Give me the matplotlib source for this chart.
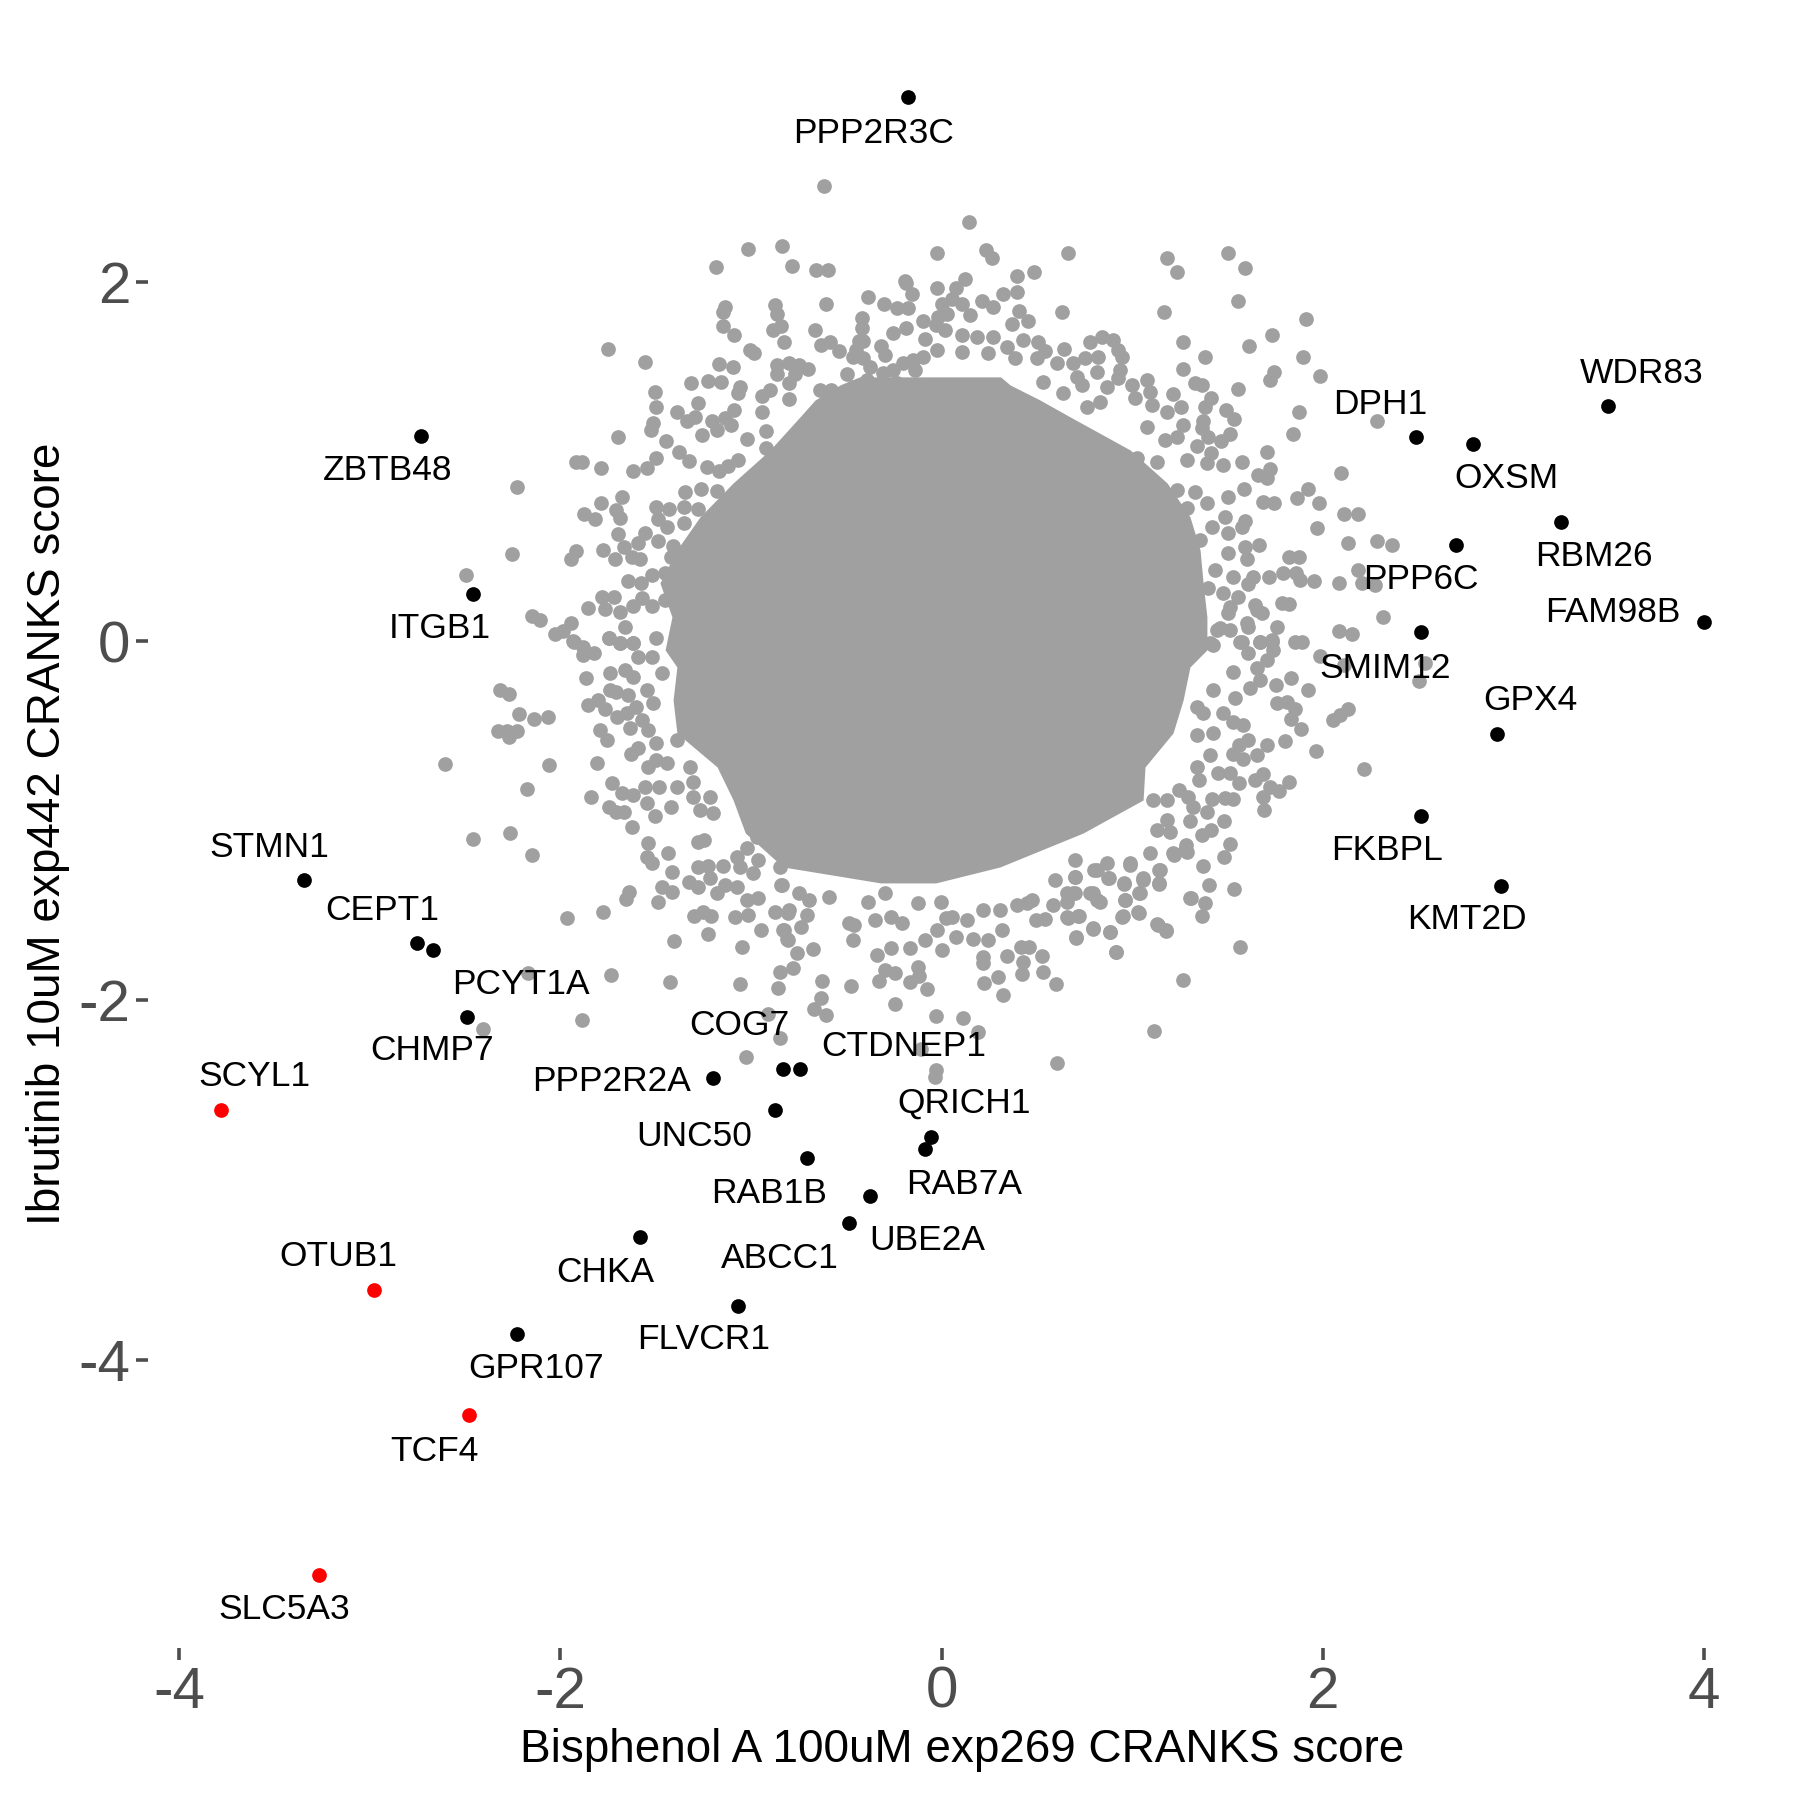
import matplotlib
matplotlib.use('Agg')
import matplotlib.pyplot as plt

plt.rcParams['font.family'] = ['Liberation Sans', 'DejaVu Sans']
plt.rcParams['axes.unicode_minus'] = False

# labelled genes
genes = ['PPP2R3C', 'ZBTB48', 'ITGB1', 'DPH1', 'OXSM', 'WDR83', 'RBM26', 'PPP6C', 'FAM98B', 'SMIM12', 'GPX4',
         'FKBPL', 'KMT2D', 'STMN1', 'CEPT1', 'PCYT1A', 'CHMP7', 'PPP2R2A', 'COG7', 'CTDNEP1', 'UNC50', 'QRICH1',
         'RAB7A', 'RAB1B', 'UBE2A', 'ABCC1', 'CHKA', 'FLVCR1', 'GPR107']
gene_x = [-.175, -2.73, -2.46, 2.49, 2.79, 3.5, 3.25, 2.70, 4.0, 2.517, 2.917,
          2.517, 2.935, -3.345, -2.755, -2.67, -2.49, -1.2, -.833, -.745, -.875, -.055,
          -.085, -.705, -.375, -.483, -1.585, -1.068, -2.23]
gene_y = [3.035, 1.147, .267, 1.137, 1.098, 1.309, .664, .536, .107, .05, -.513,
          -.973, -1.36, -1.33, -1.682, -1.72, -2.09, -2.43, -2.38, -2.38, -2.61, -2.76,
          -2.83, -2.88, -3.09, -3.24, -3.32, -3.70, -3.86]
gene_label_x = [-.357, -2.906, -2.635, 2.301, 2.964, 3.676, 3.423, 2.518, 3.525, 2.331, 3.091,
                2.338, 2.759, -3.527, -2.937, -2.207, -2.672, -1.731, -1.062, -.2, -1.297, .119,
                .119, -.905, -.073, -.851, -1.767, -1.249, -2.129]
gene_label_y = [2.831, .951, .075, 1.322, .907, 1.49, .472, .344, .159, -.149, -.328,
                -1.165, -1.549, -1.146, -1.497, -1.913, -2.278, -2.449, -2.137, -2.258, -2.757, -2.571,
                -3.025, -3.076, -3.339, -3.435, -3.518, -3.889, -4.049]

hit_genes = ['SCYL1', 'OTUB1', 'TCF4', 'SLC5A3']
hit_x = [-3.78, -2.98, -2.48, -3.27]
hit_y = [-2.61, -3.61, -4.31, -5.2]
hit_label_x = [-3.606, -3.166, -2.659, -3.449]
hit_label_y = [-2.425, -3.428, -4.511, -5.392]

# overplotted centre of the cloud, too dense to tell points apart: extent per row
core_y = [1.474, 1.429, 1.345, 1.251, 1.067, .883, .694, .51, .326, .137, -.047, -.142, -.326, -.51, -.699, -.883, -1.067, -1.256, -1.345]
core_left = [-.43, -.533, -.664, -.743, -.90, -1.094, -1.268, -1.389, -1.478, -1.415, -1.451, -1.389, -1.409, -1.389, -1.178, -1.094, -1.03, -.832, -.32]
core_right = [.31, .36, .517, .675, .99, 1.184, 1.304, 1.357, 1.373, 1.393, 1.393, 1.304, 1.268, 1.215, 1.068, 1.058, .743, .307, -.03]

# gray points around the centre, read region by region
ul = """-.617 2.537;-1.016 2.186;-.838 2.205;-1.186 2.086;-.787 2.094;-.659 2.068;-.595 2.068;-.386 1.917;-.607 1.878;-.236 1.856
-1.137 1.861;-1.149 1.834;-1.147 1.758;-1.088 1.707;-.876 1.873;-.866 1.824;-.843 1.758;-.883 1.735;-.825 1.668;-.666 1.735
-.416 1.748;-.435 1.676;-.635 1.652;-.584 1.67;-.537 1.618;-.318 1.646;-.297 1.598;-1.748 1.628;-1.557 1.557;-1.006 1.624
-.985 1.605;-1.167 1.548;-1.097 1.527;-1.317 1.438;-1.228 1.449;-1.156 1.444;-1.058 1.416;-1.067 1.382;-1.506 1.388;-1.497 1.308
-1.277 1.327;-1.389 1.278;-1.294 1.252;-1.338 1.228;-1.513 1.219;-1.527 1.176;-1.697 1.139;-1.207 1.23;-1.137 1.243;-1.088 1.288
-1.105 1.206;-1.181 1.178;-1.258 1.148;-1.448 1.119;-1.377 1.057;-1.326 1.007;-1.499 1.02;-1.548 .968;-1.618 .948;-1.788 .968
-1.916 .998;-1.889 .998;-2.229 .859;-1.676 .807;-1.788 .77;-1.877 .708;-1.818 .68;-1.706 .732;-1.688 .69;-1.697 .599
-1.557 .602;-1.592 .547;-1.487 .56;-1.347 .831;-2.257 .489;-1.919 .504;-1.947 .458;-1.779 .51;-1.667 .528;-1.714 .459
-1.627 .472;-1.583 .459;-1.646 .337;-1.578 .328;-1.784 .25;-1.856 .188;-1.767 .179;-1.688 .166;-2.147 .142;-2.105 .12
-1.947 .101;-2.029 .04;-1.986 .058;-2.498 .368;-1.744 .018;-1.662 .079;-1.933 .004;-.463 1.587;-.411 1.577;-.498 1.49
-.376 1.531;-.463 1.42;-.393 1.457;-.253 1.512;-.323 1.4;-.306 1.494;-.201 1.55;-.236 1.438;-.193 2.006;0 1.879
-.03 1.764;-.253 1.719;-.41 1.674;-.45 1.623;-.301 1.879;-.42 1.8;-.866 1.539;-.8 1.55;-.75 1.54;-.7 1.52
-.866 1.49;-.77 1.49;-.8 1.44;-.64 1.4;-.58 1.4;-.94 1.37;-.9 1.4;-.8 1.35;-.94 1.28;-.92 1.17
-1.02 1.13;-.92 1.08;-1.07 1.01;-1.23 .97;-1.17 .95;-1.12 .98;-1.26 .85;-1.18 .84;-1.5 .75;-1.43 .74
-1.35 .75;-1.28 .74;-1.49 .68;-1.44 .64;-1.35 .66;-1.41 .53;-1.42 .47;-1.52 .37;-1.45 .38;-1.72 .25
-1.57 .24;-1.62 .2;-1.52 .2;-1.45 .23;-1.5 .02;-1.62 -.01;-1.69 -.01"""

ur = """.144 2.337;-.026 2.166;.233 2.181;.263 2.138;.664 2.166;1.184 2.138;1.234 2.056;1.506 2.166;1.595 2.079;1.556 1.897
1.166 1.837;.634 1.837;1.915 1.797;1.735 1.707;1.616 1.648;1.266 1.668;1.385 1.587;1.896 1.587;1.266 1.518;1.987 1.477
1.745 1.503;1.724 1.457;1.555 1.408;1.331 1.438;1.366 1.427;1.217 1.377;1.415 1.358;1.383 1.308;1.257 1.308;1.493 1.29
1.535 1.238;1.876 1.278;2.286 1.228;1.847 1.158;1.266 1.208;1.374 1.23;1.366 1.187;1.514 1.156;1.465 1.119;1.401 1.138
1.339 1.089;1.707 1.057;1.576 .998;1.415 1.048;1.392 .992;1.476 .983;1.724 .959;1.663 .927;1.707 .913;2.097 .939
1.925 .848;1.864 .797;1.983 .77;1.686 .779;1.745 .77;1.588 .848;2.113 .708;2.186 .708;1.969 .634;1.593 .673
1.576 .64;2.135 .549;2.286 .56;2.365 .539;1.665 .539;1.826 .472;1.878 .472;1.593 .528;1.602 .458;1.637 .361
1.607 .32;1.719 .361;1.794 .38;1.861 .38;1.882 .342;1.957 .337;2.086 .328;2.188 .398;2.205 .328;2.275 .315
1.785 .216;1.826 .209;2.316 .138;1.759 .079;2.086 .058;2.155 .04;1.855 -.001;1.89 -.001;-.186 1.995;-.155 1.936
-.174 1.86;-.186 1.748;-.026 1.967;.125 2.017;.076 1.971;.053 1.908;.106 1.88;.214 1.899;.394 2.036;.485 2.056
.394 1.945;.324 1.936;.272 1.861;.405 1.841;.456 1.787;.368 1.769;.149 1.819;.027 1.824;-.017 1.809;-.099 1.787
.018 1.735;-.087 1.683;.106 1.707;.184 1.698;.272 1.698;.426 1.68;.342 1.642;.506 1.67;.645 1.629;.78 1.67
.844 1.698;.902 1.68;.928 1.624;.946 1.587;.543 1.618;-.148 1.568;-.099 1.587;-.139 1.512;-.025 1.624;.106 1.614
.246 1.605;.386 1.577;.499 1.577;.604 1.55;.692 1.55;.753 1.577;.823 1.587;.937 1.512;.814 1.503;.71 1.475
.736 1.429;.928 1.466;1.077 1.457;1.0 1.429;.867 1.42;.534 1.447;.64 1.382;1.094 1.392;1.103 1.317;1.182 1.28
1.016 1.355;.832 1.336;.762 1.308;1.077 1.197;1.173 1.122;1.234 1.141;1.287 1.011;1.129 1.002;1.024 1.02;1.234 .844
1.331 .835;1.392 .77;1.287 .742;1.506 .807;1.488 .695;1.418 .64;1.506 .602;1.357 .565;1.506 .491;1.436 .398
1.532 .361;1.4 .296;1.479 .268;1.558 .25;1.645 .203;1.68 .157;1.506 .157;1.611 .082;1.444 .064;1.41 -.01
1.567 -.001;1.672 -.001;1.733 .008"""

lr = """2.538 -.122;2.11 -.131;1.984 -.081;2.507 -.22;1.833 -.202;1.756 -.241;1.926 -.27;2.136 -.378;2.092 -.41;2.054 -.438
1.76 -.345;1.812 -.335;1.853 -.378;1.833 -.434;1.886 -.49;1.802 -.555;1.707 -.577;1.655 -.633;1.608 -.549;1.559 -.577
1.529 -.627;1.585 -.657;1.966 -.61;2.215 -.71;1.685 -.738;1.646 -.772;1.825 -.781;1.725 -.809;1.769 -.831;1.685 -.865
1.695 -.941;1.515 -.735;1.559 -.79;1.45 -.731;1.419 -.879;1.489 -.874;1.529 -.879;1.392 -.948;1.485 -.998;1.415 -1.05
1.366 -1.078;1.305 -1.0;1.515 -1.13;1.485 -1.199;1.375 -1.249;1.405 -1.359;1.536 -1.379;1.305 -1.431;1.384 -1.459;1.366 -1.529
1.566 -1.7;1.265 -1.888;1.116 -2.17;.605 -2.348;.6 -1.91;.915 -1.728;.885 -1.619;.706 -1.65;.794 -1.602;1.133 -1.576
1.177 -1.607;1.034 -1.511;.955 -1.529;.964 -1.44;1.042 -1.403;1.144 -1.351;.958 -1.351;1.06 -1.32;.876 -1.32;.794 -1.403
.832 -1.45;.722 -1.529;.661 -1.537;.657 -1.45;.692 -1.403;.701 -1.31;.815 -1.273;.99 -1.245;1.147 -1.273;1.214 -1.18
1.284 -1.134;1.279 -1.162;1.2 -1.06;1.13 -1.05;1.095 -1.18;1.182 -.995;1.322 -.92;1.296 -.865;1.182 -.883;1.112 -.883
1.244 -.827;1.349 -.772;1.34 -.698;1.41 -.633;1.427 -.512;1.34 -.521;1.375 -.4;1.34 -.363;1.48 -.4;1.532 -.447
1.585 -.465;1.541 -.317;1.427 -.27;1.62 -.261;1.672 -.215;1.655 -.15;1.707 -.103;1.742 -.048;1.734 -.001;1.672 -.001
1.576 -.001;1.655 .175;1.602 .101;1.515 .064;1.462 .073;1.427 -.02;1.532 -.168;1.611 -.066;1.515 .194"""

ll = """-2.607 -.681;-2.318 -.27;-2.269 -.293;-2.218 -.404;-2.138 -.43;-2.068 -.419;-2.33 -.501;-2.283 -.497;-2.269 -.53;-2.227 -.499
-2.059 -.69;-2.178 -.82;-1.807 -.679;-1.839 -.868;-1.728 -.787;-1.679 -.846;-1.618 -.855;-1.557 -.809;-1.548 -.902;-1.482 -.809
-1.391 -.809;-1.422 -.92;-1.504 -.972;-1.744 -.92;-1.706 -.948;-1.667 -.948;-1.627 -1.032;-2.458 -1.099;-2.267 -1.069;-2.148 -1.19
-1.539 -1.125;-1.545 -1.199;-1.518 -1.232;-1.436 -1.18;-1.417 -1.282;-1.277 -1.115;-1.247 -1.106;-1.277 -1.255;-1.224 -1.249;-1.216 -1.32
-1.328 -1.338;-1.277 -1.37;-1.469 -1.366;-1.413 -1.398;-1.489 -1.45;-1.639 -1.394;-1.658 -1.437;-1.777 -1.509;-1.968 -1.539;-1.298 -1.529
-1.251 -1.505;-1.21 -1.529;-1.228 -1.628;-1.406 -1.669;-1.084 -1.533;-1.014 -1.524;-1.046 -1.7;-.946 -1.609;-.874 -1.505;-.831 -1.609
-.808 -1.663;-.848 -1.84;-.782 -1.817;-.857 -1.929;-1.058 -1.908;-1.427 -1.899;-1.737 -1.86;-2.169 -1.849;-1.886 -2.109;-2.407 -2.159
-.909 -2.077;-.848 -2.207;-1.027 -2.317;-.761 -1.737;-1.93 -.001;-1.881 -.029;-1.881 -.075;-1.823 -.062;-1.868 -.205;-1.858 -.354
-1.802 -.326;-1.767 -.378;-1.741 -.178;-1.741 -.27;-1.706 -.28;-1.644 -.298;-1.662 -.159;-1.618 -.196;-1.746 .017;-1.688 -.01
-1.618 -.01;-1.592 -.085;-1.522 -.085;-1.469 -.178;-1.548 -.27;-1.513 -.345;-1.702 -.423;-1.653 -.4;-1.601 -.363;-1.636 -.484
-1.574 -.438;-1.539 -.493;-1.79 -.493;-1.758 -.549;-1.63 -.627;-1.592 -.595;-1.496 -.568;-1.539 -.698;-1.496 -.66;-1.443 -.679
-1.391 -.549;-1.321 -.698;-1.303 -.781;-1.303 -.865;-1.268 -.939;-1.198 -.957;-1.216 -.865;-1.093 -.753;-1.146 -1.251;-1.076 -1.199
-1.023 -1.152;-.971 -1.087;-.962 -1.217;-1.058 -1.255;-.988 -1.292;-.848 -1.255;-.84 -1.357;-1.137 -1.357;-1.181 -1.403;-1.076 -1.366
-1.023 -1.44;-.962 -1.431;-.805 -1.515"""

bottom = """-.674 -1.714;-.626 -1.89;-.477 -1.92;-.634 -1.985;-.668 -2.05;-.608 -2.079;-.246 -2.02;-.027 -2.087;.111 -2.1;.194 -2.178
-.109 -2.271;-.029 -2.388;-.035 -2.428;.324 -1.97;.222 -1.901;.294 -1.868;.423 -1.853;.533 -1.84;.417 -1.701;.461 -1.701
.527 -1.751;.346 -1.753;.427 -1.784;.216 -1.756;.216 -1.793;-.075 -1.938;-.166 -1.899;-.327 -1.89;-.246 -1.849;-.126 -1.812
-.116 -1.864;-.296 -1.83;-.337 -1.747;-.266 -1.71;-.166 -1.71;.005 -1.719;.075 -1.649;-.025 -1.608;-.085 -1.663;-.467 -1.663
-.487 -1.571;-.347 -1.552;-.206 -1.571;.166 -1.66;.246 -1.663;.316 -1.608;.306 -1.496;.135 -1.552;.025 -1.543;.704 -1.649
.794 -1.598;.885 -1.617;.915 -1.728;1.136 -1.58;1.176 -1.611;1.307 -1.431;.818 -1.441;.778 -1.403;.963 -1.441;1.03 -1.506
.949 -1.533;.718 -1.53;.662 -1.543;.658 -1.403;.698 -1.403;.583 -1.468;.497 -1.552;.543 -1.548;.447 -1.459;.698 -1.311
.798 -1.273;.879 -1.32;.959 -1.348;1.039 -1.403;1.06 -1.329;1.144 -1.348;.989 -1.236;1.14 -1.273;.698 -1.218;.869 -1.236
1.22 -1.19;1.29 -1.171;-.387 -1.45;-.738 -1.593;-.829 -1.608;-.809 -1.66;-.708 -1.524;-.799 -1.496;-.748 -1.403;-.839 -1.357
-.698 -1.441;-.588 -1.422;-.457 -1.58;-.266 -1.533;-.296 -1.403;-.126 -1.459;-.005 -1.45;.055 -1.533;.216 -1.496;.397 -1.468
.477 -1.441;.598 -1.329"""

gray_x = []
gray_y = []
for region in [ul, ur, lr, ll, bottom]:
    for pair in region.replace('\n', ';').split(';'):
        px, py = pair.split()
        gray_x.append(float(px))
        gray_y.append(float(py))

x_ticks = [-4, -2, 0, 2, 4]
y_ticks = [-4, -2, 0, 2]

gray = '#A0A0A0'
dark = '#4D4D4D'
point_size = 112

fig = plt.figure(figsize=(18, 18), dpi=100)
ax = fig.add_axes([148 / 1800, 1 - 1648 / 1800, (1776 - 148) / 1800, (1648 - 20) / 1800])

ax.fill_betweenx(core_y, core_left, core_right, color=gray, linewidth=0, zorder=1)
ax.scatter(gray_x, gray_y, s=point_size, color=gray, linewidths=0, zorder=1)
ax.scatter(gene_x, gene_y, s=point_size, color='black', linewidths=0, zorder=3)
ax.scatter(hit_x, hit_y, s=point_size, color='#FF0000', linewidths=0, zorder=3)

for name, lx, ly in zip(genes + hit_genes, gene_label_x + hit_label_x, gene_label_y + hit_label_y):
    ax.text(lx, ly, name, fontsize=25.5, color='black', ha='center', va='center', zorder=4)

ax.set_xlim(-4.165, 4.38)
ax.set_ylim(-5.607, 3.462)
ax.set_xticks(x_ticks)
ax.set_xticklabels([str(t) for t in x_ticks])
ax.set_yticks(y_ticks)
ax.set_yticklabels([str(t) for t in y_ticks])
ax.tick_params(axis='both', length=8.6, width=2.6, color=dark, labelcolor=dark, labelsize=42, pad=4)
ax.set_xlabel('Bisphenol A 100uM exp269 CRANKS score', fontsize=33, color='black', labelpad=6)
ax.set_ylabel('Ibrutinib 10uM exp442 CRANKS score', fontsize=33, color='black', labelpad=6)

for spine in ax.spines.values():
    spine.set_visible(False)

fig.savefig('out.png', dpi=100, facecolor='white')
